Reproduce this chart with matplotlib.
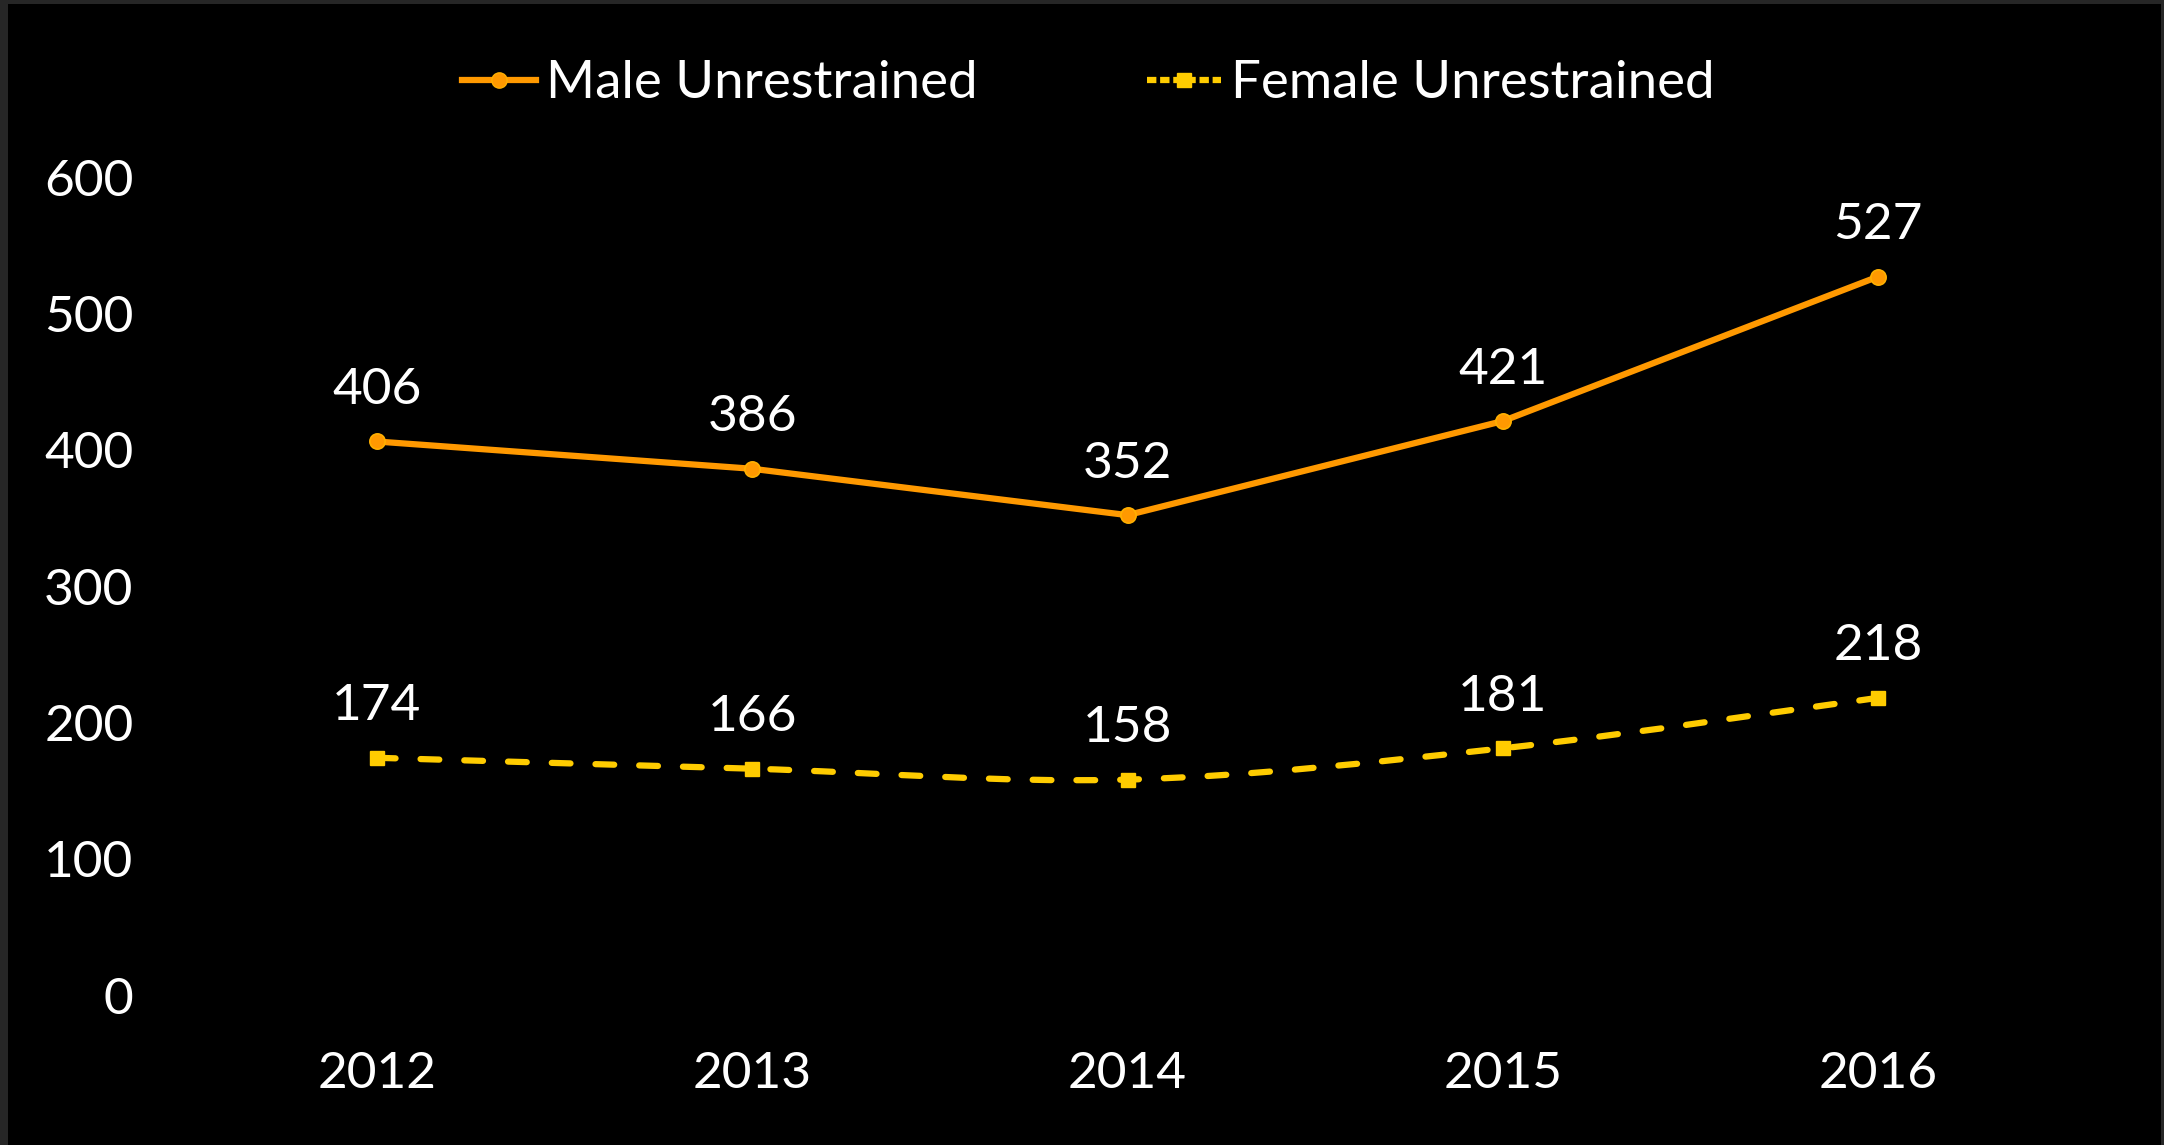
import matplotlib
matplotlib.use("Agg")
import matplotlib.pyplot as plt
from matplotlib.path import Path
from matplotlib.patches import PathPatch, Rectangle
from matplotlib.lines import Line2D

years = [2012, 2013, 2014, 2015, 2016]
male = [406, 386, 352, 421, 527]
female = [174, 166, 158, 181, 218]
y_ticks = [0, 100, 200, 300, 400, 500, 600]

ORANGE = "#FF9900"
YELLOW = "#FFCC00"

plt.rcParams["font.family"] = ["Lato", "DejaVu Sans"]


def smooth_path(xs, ys):
    # Excel-like smoothed line: cubic bezier through each point
    pts = list(zip(xs, ys))
    verts = [pts[0]]
    codes = [Path.MOVETO]
    n = len(pts)
    for i in range(n - 1):
        p0 = pts[i - 1] if i > 0 else pts[i]
        p1 = pts[i]
        p2 = pts[i + 1]
        p3 = pts[i + 2] if i + 2 < n else pts[i + 1]
        c1 = (p1[0] + (p2[0] - p0[0]) / 6, p1[1] + (p2[1] - p0[1]) / 6)
        c2 = (p2[0] - (p3[0] - p1[0]) / 6, p2[1] - (p3[1] - p1[1]) / 6)
        verts += [c1, c2, p2]
        codes += [Path.CURVE4] * 3
    return Path(verts, codes)


fig = plt.figure(figsize=(21.64, 11.45), dpi=100, facecolor="#262626")
bg = Rectangle((8 / 2164, 0), 1 - 11 / 2164, 1 - 4 / 1145,
               transform=fig.transFigure, facecolor="black",
               edgecolor="none", zorder=-10)
fig.add_artist(bg)
ax = fig.add_axes([0.0874, 0.131, 0.8673, 0.7144])
ax.set_facecolor("black")
x = list(range(len(years)))

ax.plot(x, male, color=ORANGE, lw=4.5, marker="o", markersize=11,
        markerfacecolor=ORANGE, markeredgecolor="#FFB000", markeredgewidth=1.2,
        solid_capstyle="round", zorder=3)

ax.add_patch(PathPatch(smooth_path(x, female), fill=False, edgecolor=YELLOW,
                       lw=4.5, linestyle=(0, (3, 4)), capstyle="round", zorder=3))
ax.plot(x, female, linestyle="none", marker="s", markersize=10,
        markerfacecolor=YELLOW, markeredgecolor=YELLOW, zorder=4)

for xi, v in zip(x, male):
    ax.annotate(str(v), (xi, v), xytext=(0, 37), textcoords="offset points",
                ha="center", va="center", color="white", fontsize=37)
for xi, v in zip(x, female):
    ax.annotate(str(v), (xi, v), xytext=(0, 37), textcoords="offset points",
                ha="center", va="center", color="white", fontsize=37)

ax.set_xlim(-0.5, len(years) - 0.5)
ax.set_ylim(0, 600)
ax.set_xticks(x)
ax.set_xticklabels([str(y) for y in years])
ax.set_yticks(y_ticks)
ax.tick_params(colors="white", labelsize=37, length=0)
ax.tick_params(axis="y", pad=40)
ax.tick_params(axis="x", pad=40)
for s in ax.spines.values():
    s.set_visible(False)

handles = [
    Line2D([], [], color=ORANGE, lw=4.5, marker="o", markersize=11,
           markeredgecolor="#FFB000"),
    Line2D([], [], color=YELLOW, lw=4.5, linestyle=(0, (1.5, 0.6)), marker="s",
           markersize=10),
]
leg = fig.legend(handles, ["Male Unrestrained", "Female Unrestrained"],
                 loc="center", bbox_to_anchor=(0.503, 0.927), ncol=2,
                 frameon=False, fontsize=38, handlelength=1.4,
                 handletextpad=0.2, columnspacing=3.2)
for t in leg.get_texts():
    t.set_color("white")

fig.savefig("out.png", dpi=100, facecolor=fig.get_facecolor())
